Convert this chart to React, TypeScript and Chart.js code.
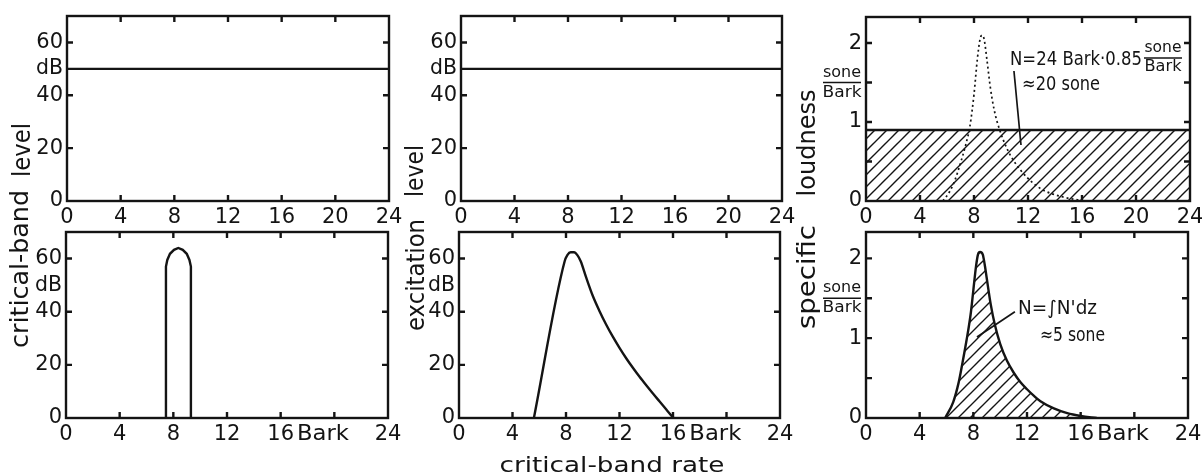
import React, { useEffect, useRef } from "react";
import { Chart, registerables } from "chart.js";
Chart.register(...registerables);

const FONT = '"DejaVu Sans", sans-serif';
const INK = "#141414";

// ---- axis ticks ----
const X_TICKS = [0, 4, 8, 12, 16, 20, 24];
const X_MARKS = [4, 8, 12, 16, 20];
const DB_TICKS = [0, 20, 40, 60];
const DB_MARKS = [20, 40, 60];
const SONE_TICKS = [0, 1, 2];
const SONE_MARKS = [0.5, 1, 1.5, 2];

// ---- data ----
const uniformLevelX = [0, 24];
const uniformLevelY = [50, 50];

const bandLevelX = [7.45, 7.45, 7.55, 7.75, 8.05, 8.37, 8.7, 9.0, 9.2, 9.31, 9.31];
const bandLevelY = [0, 57, 59.5, 61.8, 63.3, 64, 63.3, 61.8, 59.5, 57, 0];

const excitationX = [5.6, 7.9, 8.1, 8.35, 8.6, 8.85, 9.1, 9.5, 10, 10.5, 11, 11.5, 12, 12.5, 13, 13.5, 14, 14.5, 15, 15.5, 15.9, 16.05];
const excitationY = [0, 59, 61.3, 62.4, 62.4, 61.3, 59, 53, 46, 40.3, 35.2, 30.6, 26.4, 22.5, 18.9, 15.5, 12.3, 9.2, 6.2, 3.2, 0.8, 0];

const uniformLoudnessX = [0, 24];
const uniformLoudnessY = [0.9, 0.9];

const toneLoudnessX = [5.7, 6.2, 6.6, 7.0, 7.4, 7.7, 8.0, 8.25, 8.45, 8.6, 8.75, 8.95, 9.2, 9.5, 9.9, 10.4, 10.9, 11.5, 12.1, 13, 14.6, 16.2];
const toneLoudnessY = [0, 0.12, 0.27, 0.48, 0.72, 0.95, 1.35, 1.8, 2.05, 2.1, 2.05, 1.8, 1.45, 1.15, 0.9, 0.68, 0.52, 0.38, 0.27, 0.15, 0.05, 0];

const specificLoudnessX = [5.9, 6.5, 6.9, 7.2, 7.5, 7.8, 8.0, 8.2, 8.35, 8.5, 8.7, 8.85, 9.0, 9.3, 9.6, 10.0, 10.5, 11.0, 11.5, 12.0, 12.5, 13.0, 14.0, 15.0, 16.0, 17.2];
const specificLoudnessY = [0, 0.2, 0.44, 0.7, 0.98, 1.3, 1.6, 1.9, 2.05, 2.08, 2.05, 1.92, 1.75, 1.42, 1.17, 0.93, 0.72, 0.57, 0.45, 0.36, 0.28, 0.21, 0.12, 0.06, 0.025, 0];

const toPts = (xs: number[], ys: number[]) => xs.map((x, i) => ({ x, y: ys[i] }));

function fitText(ctx: CanvasRenderingContext2D, text: string, x: number, y: number, width: number, size: number,
  align: CanvasTextAlign, baseline: CanvasTextBaseline, rotate = false) {
  ctx.save();
  ctx.font = `${size}px ${FONT}`;
  const w = ctx.measureText(text).width;
  ctx.translate(x, y);
  if (rotate) ctx.rotate(-Math.PI / 2);
  ctx.scale(width / w, 1);
  ctx.textAlign = align;
  ctx.textBaseline = baseline;
  ctx.fillStyle = INK;
  ctx.fillText(text, 0, 0);
  ctx.restore();
}

const YW = 70, PAD_T = 12, PAD_R = 16, XH = 38, TICK_PAD = 4, TICK_SIZE = 21, LW = 2.4;

type Panel = {
  area: [number, number, number, number];
  yMax: number;
  yTicks: number[];
  yMarks: number[];
  bottomRow: boolean;
  unit: "dB" | "sone";
  datasets: (p: CanvasPattern) => any[];
  extras?: (ctx: CanvasRenderingContext2D, chart: any) => void;
};

const line = (pts: any[], extra: any = {}) => ({
  data: pts, showLine: true, pointRadius: 0, borderColor: INK, borderWidth: LW, fill: false, tension: 0, ...extra,
});

const PANELS: Panel[] = [
  { area: [67, 16, 389, 201], yMax: 70, yTicks: DB_TICKS, yMarks: DB_MARKS, bottomRow: false, unit: "dB",
    datasets: () => [line(toPts(uniformLevelX, uniformLevelY))] },
  { area: [66, 232, 388, 418], yMax: 70, yTicks: DB_TICKS, yMarks: DB_MARKS, bottomRow: true, unit: "dB",
    datasets: () => [line(toPts(bandLevelX, bandLevelY))] },
  { area: [461, 16, 782, 201], yMax: 70, yTicks: DB_TICKS, yMarks: DB_MARKS, bottomRow: false, unit: "dB",
    datasets: () => [line(toPts(uniformLevelX, uniformLevelY))] },
  { area: [459, 232, 780, 418], yMax: 70, yTicks: DB_TICKS, yMarks: DB_MARKS, bottomRow: true, unit: "dB",
    datasets: () => [line(toPts(excitationX, excitationY), { cubicInterpolationMode: "monotone" })] },
  { area: [866, 17, 1190, 201], yMax: 2.33, yTicks: SONE_TICKS, yMarks: SONE_MARKS, bottomRow: false, unit: "sone",
    datasets: (p) => [
      line(toPts(toneLoudnessX, toneLoudnessY), { borderWidth: 1.7, borderDash: [2, 3], cubicInterpolationMode: "monotone" }),
      line(toPts(uniformLoudnessX, uniformLoudnessY), { fill: "origin", backgroundColor: p }),
    ],
    extras: (ctx, chart) => {
      const px = (v: number) => chart.scales.x.getPixelForValue(v);
      const py = (v: number) => chart.scales.y.getPixelForValue(v);
      ctx.save();
      ctx.strokeStyle = INK; ctx.lineWidth = 1.7;
      ctx.beginPath(); ctx.moveTo(px(10.96), py(1.646)); ctx.lineTo(px(11.48), py(0.709)); ctx.stroke();
      ctx.restore();
      fitText(ctx, "N=24 Bark·0.85", px(10.67), py(1.785), 132, 19, "left", "middle");
      const cx = px(22.0), ly = py(1.81);
      ctx.save(); ctx.strokeStyle = INK; ctx.lineWidth = 1.5;
      ctx.beginPath(); ctx.moveTo(cx - 19, ly); ctx.lineTo(cx + 19, ly); ctx.stroke(); ctx.restore();
      fitText(ctx, "sone", cx, ly - 2, 37, 15, "center", "bottom");
      fitText(ctx, "Bark", cx, ly + 2, 37, 15, "center", "top");
      fitText(ctx, "≈20 sone", px(11.56), py(1.47), 78, 19, "left", "middle");
    } },
  { area: [866, 232, 1188, 418], yMax: 2.33, yTicks: SONE_TICKS, yMarks: SONE_MARKS, bottomRow: true, unit: "sone",
    datasets: (p) => [
      line(toPts(specificLoudnessX, specificLoudnessY), { fill: "origin", backgroundColor: p, cubicInterpolationMode: "monotone" }),
    ],
    extras: (ctx, chart) => {
      const px = (v: number) => chart.scales.x.getPixelForValue(v);
      const py = (v: number) => chart.scales.y.getPixelForValue(v);
      ctx.save();
      ctx.strokeStyle = INK; ctx.lineWidth = 1.7;
      ctx.beginPath(); ctx.moveTo(px(11.1), py(1.33)); ctx.lineTo(px(8.27), py(1.015)); ctx.stroke();
      ctx.restore();
      fitText(ctx, "N=∫N'dz", px(11.33), py(1.366), 79, 19, "left", "middle");
      fitText(ctx, "≈5 sone", px(12.97), py(1.03), 65, 19, "left", "middle");
    } },
];

function makeHatch(ctx: CanvasRenderingContext2D, s: number): CanvasPattern {
  const c = document.createElement("canvas");
  c.width = s; c.height = s;
  const g = c.getContext("2d")!;
  g.strokeStyle = INK; g.lineWidth = 1.4;
  g.beginPath();
  g.moveTo(0, s); g.lineTo(s, 0);
  g.moveTo(-s / 2, s / 2); g.lineTo(s / 2, -s / 2);
  g.moveTo(s / 2, s * 1.5); g.lineTo(s * 1.5, s / 2);
  g.stroke();
  return ctx.createPattern(c, "repeat")!;
}

function PanelChart({ spec }: { spec: Panel }) {
  const ref = useRef<HTMLCanvasElement>(null);
  const [L, T, R, B] = spec.area;
  const w = YW + (R - L) + PAD_R;
  const h = PAD_T + (B - T) + XH;
  useEffect(() => {
    const canvas = ref.current!;
    const pattern = makeHatch(canvas.getContext("2d")!, 12);
    const plugin = {
      id: "frame",
      afterDraw(chart: any) {
        const { ctx, chartArea: a, scales } = chart;
        ctx.save();
        ctx.strokeStyle = INK; ctx.lineWidth = LW;
        ctx.beginPath();
        X_MARKS.forEach((v) => {
          const p = scales.x.getPixelForValue(v);
          ctx.moveTo(p, a.bottom); ctx.lineTo(p, a.bottom - 6);
          ctx.moveTo(p, a.top); ctx.lineTo(p, a.top + 6);
        });
        spec.yMarks.forEach((v) => {
          const p = scales.y.getPixelForValue(v);
          ctx.moveTo(a.left, p); ctx.lineTo(a.left + 6, p);
          ctx.moveTo(a.right, p); ctx.lineTo(a.right - 6, p);
        });
        ctx.stroke();
        ctx.strokeRect(a.left, a.top, a.right - a.left, a.bottom - a.top);
        ctx.restore();
        if (spec.unit === "dB") {
          fitText(ctx, "dB", a.left - 4, scales.y.getPixelForValue(50), 27, TICK_SIZE, "right", "middle");
        } else {
          const cx = a.left - 24, ly = scales.y.getPixelForValue(1.5);
          ctx.save(); ctx.strokeStyle = INK; ctx.lineWidth = 1.6;
          ctx.beginPath(); ctx.moveTo(cx - 19, ly); ctx.lineTo(cx + 19, ly); ctx.stroke(); ctx.restore();
          fitText(ctx, "sone", cx, ly - 2, 38, 16, "center", "bottom");
          fitText(ctx, "Bark", cx, ly + 2, 39, 16, "center", "top");
        }
        if (spec.bottomRow) {
          ctx.save();
          ctx.font = `${TICK_SIZE}px ${FONT}`;
          const w16 = ctx.measureText("16").width;
          ctx.restore();
          const x0 = scales.x.getPixelForValue(16) + w16 / 2 + 3;
          fitText(ctx, "Bark", x0, scales.x.top + TICK_PAD + TICK_SIZE * 0.6, 52, TICK_SIZE, "left", "middle");
        }
        if (spec.extras) spec.extras(ctx, chart);
      },
    };
    const chart = new Chart(canvas, {
      type: "scatter",
      data: { datasets: spec.datasets(pattern) },
      options: {
        animation: false,
        responsive: false,
        devicePixelRatio: 1,
        layout: { padding: { left: 0, top: PAD_T, right: PAD_R, bottom: 0 } },
        plugins: { legend: { display: false }, tooltip: { enabled: false } },
        scales: {
          x: {
            type: "linear", min: 0, max: 24,
            grid: { display: false, drawTicks: false },
            border: { display: false },
            afterBuildTicks: (s: any) => { s.ticks = X_TICKS.map((v) => ({ value: v })); },
            afterFit: (s: any) => { s.height = XH; s.paddingLeft = 0; s.paddingRight = 0; },
            ticks: {
              autoSkip: false, maxRotation: 0, padding: TICK_PAD, color: INK,
              font: { family: FONT, size: TICK_SIZE },
              callback: (v: any) => (spec.bottomRow && v === 20 ? "" : String(v)),
            },
          },
          y: {
            type: "linear", min: 0, max: spec.yMax,
            grid: { display: false, drawTicks: false },
            border: { display: false },
            afterBuildTicks: (s: any) => { s.ticks = spec.yTicks.map((v) => ({ value: v })); },
            afterFit: (s: any) => { s.width = YW; s.paddingTop = 0; s.paddingBottom = 0; },
            ticks: { padding: 4, color: INK, font: { family: FONT, size: TICK_SIZE }, callback: (v: any) => String(v) },
          },
        },
      },
      plugins: [plugin],
    } as any);
    return () => chart.destroy();
  }, []);
  return (
    <canvas ref={ref} width={w} height={h}
      style={{ position: "absolute", left: L - YW, top: T - PAD_T, width: w, height: h }} />
  );
}

function Labels() {
  const ref = useRef<HTMLCanvasElement>(null);
  useEffect(() => {
    const ctx = ref.current!.getContext("2d")!;
    ctx.clearRect(0, 0, 1202, 474);
    fitText(ctx, "critical-band", 28, 269, 158, 24, "center", "alphabetic", true);
    fitText(ctx, "level", 30, 150, 54, 24, "center", "alphabetic", true);
    fitText(ctx, "excitation", 424, 275, 112, 24, "center", "alphabetic", true);
    fitText(ctx, "level", 423, 171, 52, 24, "center", "alphabetic", true);
    fitText(ctx, "loudness", 815, 143, 107, 24, "center", "alphabetic", true);
    fitText(ctx, "specific", 815, 277, 104, 24, "center", "alphabetic", true);
    fitText(ctx, "critical-band rate", 612, 472, 225, 22, "center", "alphabetic");
  }, []);
  return <canvas ref={ref} width={1202} height={474}
    style={{ position: "absolute", left: 0, top: 0, width: 1202, height: 474, pointerEvents: "none" }} />;
}

export default function App() {
  return (
    <div style={{ position: "absolute", left: 0, top: 0, width: 1202, height: 474, overflow: "hidden", background: "#fff" }}>
      {PANELS.map((p, i) => <PanelChart key={i} spec={p} />)}
      <Labels />
    </div>
  );
}
